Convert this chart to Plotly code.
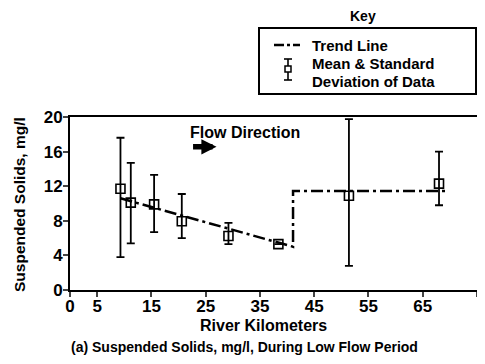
import plotly.graph_objects as go

# Data
km = [9.3, 11.2, 15.5, 20.6, 29.2, 38.4, 51.4, 68.0]
mean_ss = [11.7, 10.1, 9.9, 7.95, 6.25, 5.3, 10.9, 12.3]
upper_ss = [17.6, 14.7, 13.3, 11.1, 7.75, 5.3, 19.75, 16.0]
lower_ss = [3.8, 5.4, 6.7, 6.0, 5.3, 5.3, 2.8, 9.8]
trend_x = [9.3, 41.1, 41.1, 69.4]
trend_y = [10.6, 5.0, 11.45, 11.45]
x_ticks = [0, 5, 15, 25, 35, 45, 55, 65, 75]
y_ticks = [0, 4, 8, 12, 16, 20]

FONT = "Liberation Sans"
OFF = 8  # page body margin
PAGE_W, PAGE_H = 485, 364
W, H = PAGE_W - 2 * OFF, PAGE_H - 2 * OFF
# plot area in page pixels
L, R, T, B = 70, 477, 117, 290

fig = go.Figure()
fig.add_trace(go.Scatter(
    x=trend_x, y=trend_y, mode="lines",
    line=dict(color="black", width=2.5, dash="12px,4px,3px,4px"),
    showlegend=False, hoverinfo="skip"))
fig.add_trace(go.Scatter(
    x=km, y=mean_ss, mode="markers",
    marker=dict(symbol="square-open", size=9, color="black", line=dict(width=1.6)),
    error_y=dict(type="data", symmetric=False,
                 array=[u - m for u, m in zip(upper_ss, mean_ss)],
                 arrayminus=[m - l for m, l in zip(mean_ss, lower_ss)],
                 color="black", thickness=1.8, width=4),
    showlegend=False))

def px(x):
    return (x - L) / (R - L)

def py(y):
    return (B - y) / (B - T)

shapes = []
annotations = []
# Legend box
shapes.append(dict(type="rect", xref="paper", yref="paper",
                   x0=px(259), x1=px(476), y0=py(94), y1=py(28),
                   line=dict(color="black", width=2)))
shapes.append(dict(type="line", xref="paper", yref="paper",
                   x0=px(274), x1=px(300), y0=py(45), y1=py(45),
                   line=dict(color="black", width=2.5, dash="10px,3px,3px,3px")))
# error bar symbol in legend
shapes.append(dict(type="line", xref="paper", yref="paper",
                   x0=px(288), x1=px(288), y0=py(59), y1=py(80),
                   line=dict(color="black", width=1.6)))
for yy in (59, 80):
    shapes.append(dict(type="line", xref="paper", yref="paper",
                       x0=px(284), x1=px(292), y0=py(yy), y1=py(yy),
                       line=dict(color="black", width=1.6)))
shapes.append(dict(type="rect", xref="paper", yref="paper",
                   x0=px(285), x1=px(291), y0=py(72), y1=py(66),
                   line=dict(color="black", width=1.5), fillcolor="white"))

def txt(x, y, s, size=13, xanchor="left", angle=0):
    annotations.append(dict(xref="paper", yref="paper", x=px(x), y=py(y), text=s,
                            showarrow=False, xanchor=xanchor, yanchor="middle",
                            textangle=angle,
                            font=dict(family=FONT, size=size, color="black", weight="bold")))

txt(363, 16, "Key", 14, "center")
txt(310, 45, "Trend Line", 15)
txt(310, 63, "Mean & Standard", 15)
txt(310, 82, "Deviation of Data", 15)
txt(263, 325, "River Kilometers", 16, "center")
txt(244, 347, "(a) Suspended Solids, mg/l, During Low Flow Period", 14, "center")
txt(19, 205, "Suspended Solids, mg/l", 15.5, "center", -90)

annotations.append(dict(xref="x", yref="y", x=32.2, y=18.17, text="Flow Direction",
                        showarrow=False, xanchor="center", yanchor="middle",
                        font=dict(family=FONT, size=16, color="black", weight="bold")))
annotations.append(dict(xref="x", yref="y", x=27.0, y=16.55, ax=22.4, ay=16.55,
                        axref="x", ayref="y", text="", showarrow=True,
                        arrowhead=2, arrowsize=0.55, arrowwidth=5.5, arrowcolor="black"))

fig.update_layout(
    width=W, height=H,
    margin=dict(l=L - OFF, r=(PAGE_W - OFF) - R, t=T - OFF, b=(PAGE_H - OFF) - B,
                autoexpand=False),
    plot_bgcolor="white", paper_bgcolor="white",
    shapes=shapes, annotations=annotations,
    font=dict(family=FONT, color="black"),
    xaxis=dict(range=[0, 75], tickvals=x_ticks, ticks="outside", ticklen=5, tickwidth=2,
               showgrid=False, zeroline=False, showline=True, linewidth=2, linecolor="black",
               mirror=True, automargin=False, ticklabelstandoff=-5,
               tickfont=dict(family=FONT, size=17, weight="bold")),
    yaxis=dict(range=[0, 20], tickvals=y_ticks, ticks="outside", ticklen=5, tickwidth=2,
               showgrid=False, zeroline=False, showline=True, linewidth=2, linecolor="black",
               mirror=True, automargin=False, ticklabelstandoff=-3,
               tickfont=dict(family=FONT, size=17, weight="bold")),
)

fig.write_html("out.html")
